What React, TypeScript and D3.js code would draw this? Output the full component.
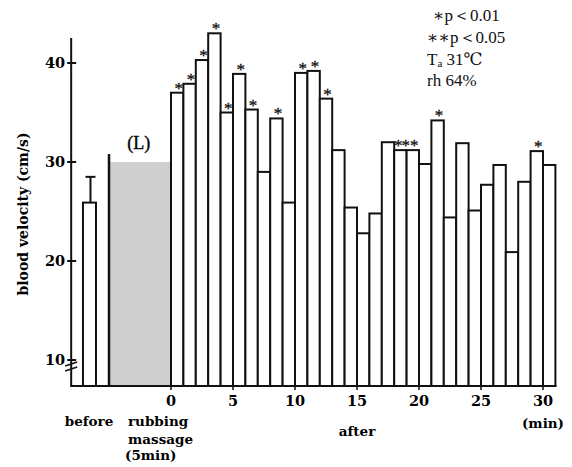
import { useEffect, useRef } from "react";
import * as d3 from "d3";

// minutes after massage (bar start), one bar per minute
const minutes = d3.range(0, 31);
const velocity = [37.0, 37.9, 40.3, 43.0, 35.0, 38.9, 35.3, 29.0, 34.4, 25.9, 39.0, 39.2, 36.4, 31.2, 25.4, 22.8,
  24.8, 32.0, 31.2, 31.2, 29.8, 34.2, 24.4, 31.9, 25.1, 27.7, 29.7, 20.9, 28.0, 31.1, 29.7];
const signif = ["*", "*", "*", "*", "*", "*", "*", "", "*", "", "*", "*", "*", "", "", "", "", "", "**", "*", "", "*",
  "", "", "", "", "", "", "", "*", ""];

const before = { mean: 25.9, upper: 28.5 };
const massage = { from: -5, to: 0, level: 30 };
const xTicks = [0, 5, 10, 15, 20, 25, 30];
const yTicks = [10, 20, 30, 40];

export default function App() {
  const ref = useRef<SVGSVGElement | null>(null);

  useEffect(() => {
    if (!ref.current) return;
    const svg = d3.select(ref.current);
    svg.selectAll("*").remove();
    const bold = "'DejaVu Serif', serif";
    const serif = "'Liberation Serif', 'DejaVu Serif', serif";

    const x = d3.scaleLinear().domain([0, 30]).range([171, 543]);
    const y = d3.scaleLinear().domain([10, 40]).range([360, 63]);
    const base = 386;
    const axisX = x(-8.05);

    // massage shading
    svg.append("rect")
      .attr("x", x(massage.from)).attr("y", y(massage.level))
      .attr("width", x(massage.to) - x(massage.from)).attr("height", base - y(massage.level))
      .attr("fill", "#cfcfcf");
    svg.append("line")
      .attr("x1", x(massage.from)).attr("x2", x(massage.from))
      .attr("y1", base).attr("y2", y(massage.level + 0.8))
      .attr("stroke", "#111").attr("stroke-width", 2.5);
    svg.append("text").attr("x", x(-2.6)).attr("y", y(31.3))
      .attr("text-anchor", "middle").attr("font-family", serif).attr("font-size", 18)
      .attr("stroke", "#111").attr("stroke-width", 0.4)
      .text("(L)");

    // before bar with error bar
    const bx0 = x(-7.1), bx1 = x(-6.05);
    const bmid = (bx0 + bx1) / 2 + 1;
    svg.append("line").attr("x1", bmid).attr("x2", bmid)
      .attr("y1", y(before.mean)).attr("y2", y(before.upper)).attr("stroke", "#111").attr("stroke-width", 2);
    svg.append("line").attr("x1", bmid - 5).attr("x2", bmid + 5)
      .attr("y1", y(before.upper)).attr("y2", y(before.upper)).attr("stroke", "#111").attr("stroke-width", 2);
    svg.append("rect").attr("x", bx0).attr("y", y(before.mean))
      .attr("width", bx1 - bx0).attr("height", base - y(before.mean))
      .attr("fill", "white").attr("stroke", "#111").attr("stroke-width", 2);

    // after bars
    svg.append("g").selectAll("rect")
      .data(minutes)
      .join("rect")
      .attr("x", d => x(d))
      .attr("y", (d, i) => y(velocity[i]))
      .attr("width", x(1) - x(0))
      .attr("height", (d, i) => base - y(velocity[i]))
      .attr("fill", "white").attr("stroke", "#111").attr("stroke-width", 2);

    svg.append("g").selectAll("text")
      .data(minutes.filter((d, i) => signif[i]))
      .join("text")
      .attr("x", d => x(d + 0.5) + 1)
      .attr("y", d => y(velocity[d]) + 1)
      .attr("text-anchor", "middle").attr("font-family", serif).attr("font-size", 17)
      .attr("fill", "#111").attr("stroke", "#111").attr("stroke-width", 0.3)
      .attr("letter-spacing", -1)
      .text(d => signif[d]);

    // axes
    svg.append("line").attr("x1", axisX).attr("x2", axisX).attr("y1", 38).attr("y2", base)
      .attr("stroke", "#111").attr("stroke-width", 2);
    svg.append("line").attr("x1", axisX - 1).attr("x2", x(31) + 1).attr("y1", base).attr("y2", base)
      .attr("stroke", "#111").attr("stroke-width", 2);

    const yg = svg.append("g");
    yg.selectAll("line").data(yTicks).join("line")
      .attr("x1", axisX - 4).attr("x2", axisX + 5).attr("y1", d => y(d)).attr("y2", d => y(d))
      .attr("stroke", "#111").attr("stroke-width", 2);
    yg.selectAll("text").data(yTicks).join("text")
      .attr("x", axisX - 6).attr("y", d => y(d) + 5)
      .attr("text-anchor", "end").attr("font-family", bold).attr("font-size", 14.5).attr("font-weight", "bold")
      .text(d => d);

    // axis break
    [0, 5].forEach(off => {
      svg.append("line").attr("x1", axisX - 6).attr("x2", axisX + 6)
        .attr("y1", 366 + off).attr("y2", 362 + off).attr("stroke", "#111").attr("stroke-width", 1.5);
    });

    const xg = svg.append("g");
    xg.selectAll("line").data(xTicks).join("line")
      .attr("x1", d => x(d)).attr("x2", d => x(d)).attr("y1", base).attr("y2", base + 4)
      .attr("stroke", "#111").attr("stroke-width", 1.5);
    xg.selectAll("text").data(xTicks).join("text")
      .attr("x", d => x(d)).attr("y", 406)
      .attr("text-anchor", "middle").attr("font-family", bold).attr("font-size", 14.5).attr("font-weight", "bold")
      .text(d => d);

    const label = (t: string, tx: number, ty: number, anchor = "middle") =>
      svg.append("text").attr("x", tx).attr("y", ty).attr("text-anchor", anchor)
        .attr("font-family", bold).attr("font-size", 13.5).attr("font-weight", "bold").text(t);
    label("before", 89, 426);
    label("rubbing", 128, 426, "start");
    label("massage", 128, 444, "start");
    label("(5min)", 125, 460, "start");
    label("after", x(15), 436);
    label("(min)", x(30), 428);

    svg.append("text")
      .attr("transform", `translate(28, 214) rotate(-90)`)
      .attr("text-anchor", "middle").attr("font-family", bold).attr("font-size", 14).attr("font-weight", "bold")
      .text("blood velocity (cm/s)");

    // legend
    const leg = svg.append("g").attr("font-family", serif).attr("font-size", 17).attr("fill", "#111");
    leg.append("text").attr("x", 433).attr("y", 21).text("∗p＜0.01");
    leg.append("text").attr("x", 427).attr("y", 43).text("∗∗p＜0.05");
    const ta = leg.append("text").attr("x", 427).attr("y", 65);
    ta.append("tspan").text("T");
    ta.append("tspan").attr("font-size", 11).attr("dy", 2).text("a");
    ta.append("tspan").attr("dy", -2).text(" 31℃");
    leg.append("text").attr("x", 427).attr("y", 86).text("rh  64%");
  }, []);

  return (
    <svg ref={ref} width={572} height={467}
      style={{ position: "absolute", left: 0, top: 0, background: "white" }} />
  );
}
